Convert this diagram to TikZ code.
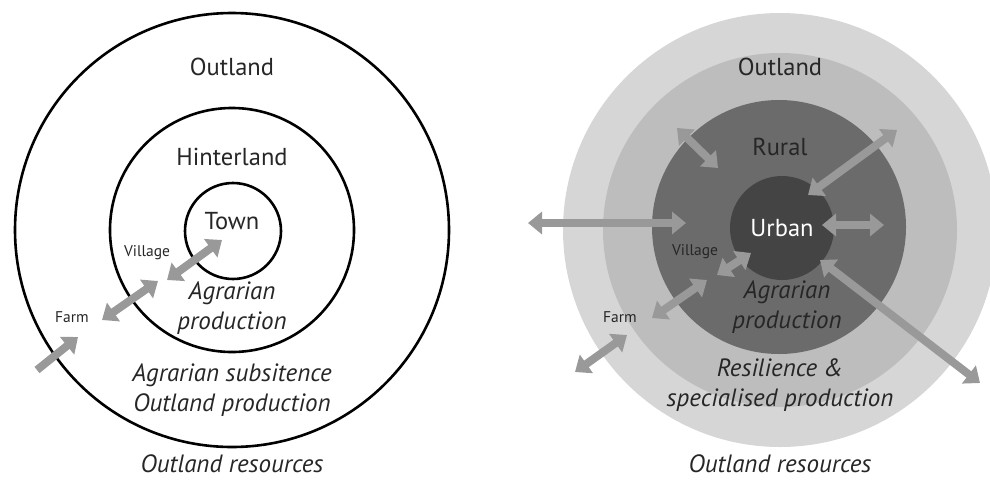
\documentclass[tikz,border=0pt]{standalone}
\usepackage{fontspec}
\setmainfont{PT Sans}
\usetikzlibrary{arrows.meta}
\definecolor{ringout}{HTML}{D6D6D6}
\definecolor{ringmid}{HTML}{BDBDBD}
\definecolor{ringrur}{HTML}{6B6B6B}
\definecolor{ringurb}{HTML}{444444}
\definecolor{fluxgray}{HTML}{999999}
\tikzset{
  ring/.style={draw=black, line width=2.6pt},
  label/.style={font=\fontsize{24.5}{29}\selectfont, text=black!85},
  place/.style={font=\fontsize{15.5}{18}\selectfont, text=black!85},
  zone/.style={font=\fontsize{25}{30}\selectfont\itshape, text=black!85, align=center, inner sep=1pt},
  flux/.style={line width=8pt, draw=fluxgray,
    {Triangle[width=22pt,length=14pt]}-{Triangle[width=22pt,length=14pt]}},
  fluxone/.style={line width=8pt, draw=fluxgray, -{Triangle[width=22pt,length=14pt]}}
}
\begin{document}
\begin{tikzpicture}[x=1pt,y=-1pt]
	\useasboundingbox (0,0) rectangle (990,480);
	
	% Cercles de gauche
	\draw[ring] (232,230) circle (217);
	\draw[ring] (232,230) circle (122);
	\draw[ring] (233,231) circle (48);
	
	% Cercles de droite
	\fill[ringout] (780,230) circle (217);
	\fill[ringmid] (780,230) circle (177);
	\fill[ringrur] (779,227) circle (127);
	\fill[ringurb] (782,228) circle (52);
	
	% Textes gauche
	\node[label] (outL) at (232,67) {Outland};
	\node[label] (hinter) at (232,157) {Hinterland};
	\node[label] (town) at (232,221) {Town};
	\node[place] (villL) at (147,253) {Village};
	\node[place] (farmL) at (72,317) {Farm};
	\node[zone] (agrL) at (232,308) {Agrarian\\production};
	\node[zone] (subs) at (232,390) {Agrarian subsitence\\Outland production};
	\node[zone] (resL) at (232,464) {Outland resources};
	
	% Textes droite
	\node[label] (outR) at (780,67) {Outland};
	\node[label] (rural) at (780,147) {Rural};
	\node[label, text=white] (urban) at (782,228) {Urban};
	\node[place] (villR) at (695,252) {Village};
	\node[place] (farmR) at (620,317) {Farm};
	\node[zone] (agrR) at (787,307) {Agrarian\\production};
	\node[zone] (resil) at (780,385) {Resilience \&\\specialised production};
	\node[zone] (resR) at (780,464) {Outland resources};
	
	% Extremites des fleches
	\coordinate (a1) at (167,280); \coordinate (a2) at (222,240);
	\coordinate (b1) at (102,320); \coordinate (b2) at (158,281);
	\coordinate (c1) at (37,370);  \coordinate (c2) at (78,337);
	\coordinate (d1) at (677,128); \coordinate (d2) at (718,168);
	\coordinate (e1) at (897,130); \coordinate (e2) at (808,195);
	\coordinate (f1) at (528,223); \coordinate (f2) at (686,223);
	\coordinate (g1) at (822,225); \coordinate (g2) at (884,225);
	\coordinate (h1) at (717,275); \coordinate (h2) at (751,253);
	\coordinate (i1) at (652,318); \coordinate (i2) at (707,280);
	\coordinate (j1) at (575,372); \coordinate (j2) at (627,335);
	\coordinate (k1) at (820,260); \coordinate (k2) at (980,383);
	
	% Fleches
	\draw[flux] (a1) -- (a2);
	\draw[flux] (b1) -- (b2);
	\draw[fluxone] (c1) -- (c2);
	\foreach \p in {d,e,f,g,h,i,j,k}
		\draw[flux] (\p1) -- (\p2);
\end{tikzpicture}
\end{document}
